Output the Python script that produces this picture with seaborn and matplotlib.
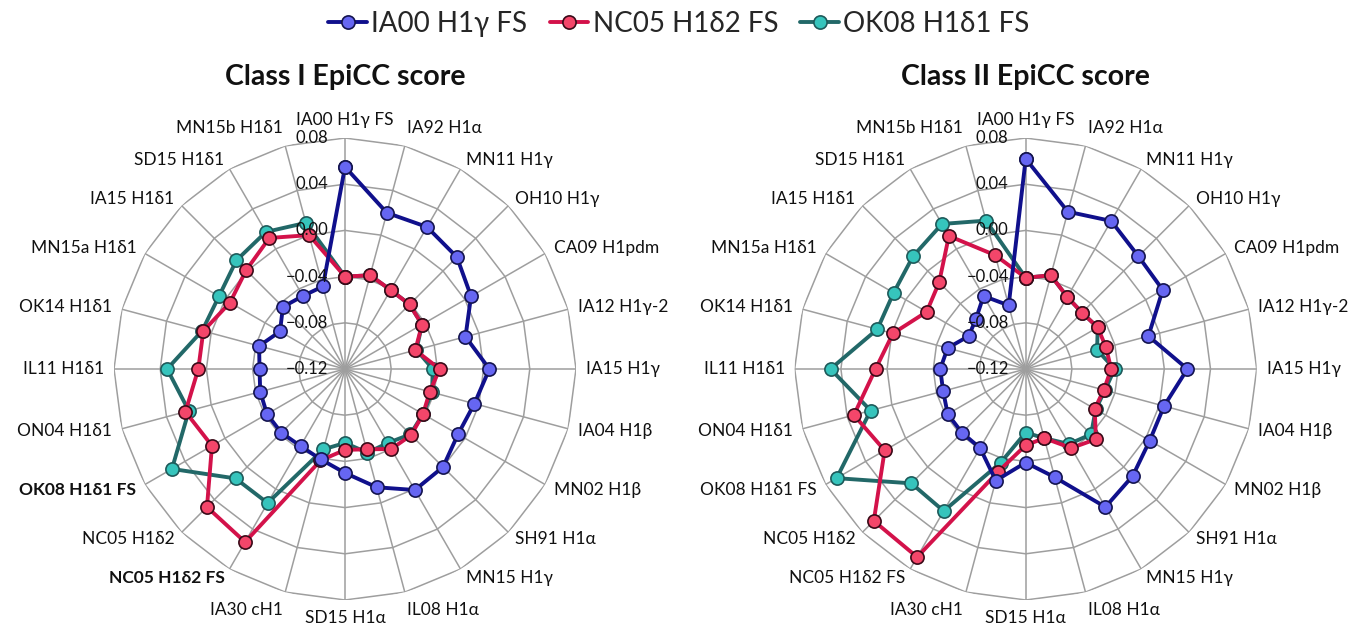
import numpy as np
import pandas as pd
import matplotlib
matplotlib.use("Agg")
import matplotlib.pyplot as plt
import matplotlib.transforms as mtransforms
import seaborn as sns

# ---------------- data ----------------
categories = ["IA00 H1γ FS", "IA92 H1α", "MN11 H1γ", "OH10 H1γ", "CA09 H1pdm",
              "IA12 H1γ-2", "IA15 H1γ", "IA04 H1β", "MN02 H1β", "SH91 H1α",
              "MN15 H1γ", "IL08 H1α", "SD15 H1α", "IA30 cH1", "NC05 H1δ2 FS",
              "NC05 H1δ2", "OK08 H1δ1 FS", "ON04 H1δ1", "IL11 H1δ1", "OK14 H1δ1",
              "MN15a H1δ1", "IA15 H1δ1", "SD15 H1δ1", "MN15b H1δ1"]

series_names = ["IA00 H1γ FS", "NC05 H1δ2 FS", "OK08 H1δ1 FS"]

class1_ia00 = [0.055, 0.020, 0.022, 0.017, 0.006, -0.012, 0.005, -0.004, -0.007, 0.000,
               0.001, -0.014, -0.030, -0.039, -0.043, -0.042, -0.042, -0.044, -0.046,
               -0.043, -0.055, -0.044, -0.047, -0.046]
class1_nc05 = [-0.040, -0.036, -0.041, -0.041, -0.043, -0.057, -0.038, -0.044, -0.042,
               -0.039, -0.040, -0.048, -0.050, -0.038, 0.053, 0.049, 0.013, 0.023,
               0.007, 0.007, -0.005, 0.001, 0.011, 0.000]
class1_ok08 = [-0.040, -0.036, -0.041, -0.041, -0.043, -0.056, -0.044, -0.042, -0.042,
               -0.040, -0.046, -0.045, -0.056, -0.048, 0.014, 0.014, 0.053, 0.020,
               0.034, 0.008, 0.006, 0.013, 0.017, 0.011]

class2_ia00 = [0.062, 0.021, 0.028, 0.018, 0.017, -0.010, 0.020, 0.004, 0.004, 0.011,
               0.018, -0.023, -0.039, -0.020, -0.041, -0.042, -0.042, -0.046, -0.046,
               -0.050, -0.063, -0.059, -0.047, -0.063]
class2_nc05 = [-0.041, -0.036, -0.048, -0.051, -0.048, -0.048, -0.046, -0.050, -0.051,
               -0.034, -0.041, -0.058, -0.054, -0.028, 0.068, 0.066, 0.021, 0.034,
               0.010, -0.001, -0.021, -0.014, 0.013, -0.018]
class2_ok08 = [-0.041, -0.036, -0.048, -0.051, -0.048, -0.056, -0.043, -0.049, -0.050,
               -0.040, -0.045, -0.058, -0.065, -0.036, 0.022, 0.020, 0.069, 0.019,
               0.049, 0.013, 0.012, 0.018, 0.025, 0.013]

radial_ticks = [0.08, 0.04, 0.00, -0.04, -0.08, -0.12]
radial_tick_labels = ["0.08", "0.04", "0.00", "\u22120.04", "\u22120.08", "\u22120.12"]
titles = ["Class I EpiCC score", "Class II EpiCC score"]
bold_labels_left = {"OK08 H1δ1 FS", "NC05 H1δ2 FS"}

# ---------------- style ----------------
sns.set_theme(style="white")
plt.rcParams["font.family"] = ["Lato", "DejaVu Sans"]

line_colors = ["#10108C", "#D3124A", "#226868"]
face_colors = ["#6666F2", "#F4466A", "#36C4BC"]
edge_colors = ["#14144F", "#3A0A18", "#1E5A5A"]
zorders = [6, 5, 4]
grid_color = "#9E9E9E"

W, H = 1358, 631
fig = plt.figure(figsize=(W / 100, H / 100), dpi=100)

n = len(categories)
theta = np.arange(n) * 2 * np.pi / n
theta_closed = np.append(theta, 2 * np.pi)
rmin, rmax = -0.12, 0.08
R_PX = 231

centers = [(345, 369), (1025.7, 369)]
datasets = [[class1_ia00, class1_nc05, class1_ok08],
            [class2_ia00, class2_nc05, class2_ok08]]

legend_handles = []
for k, ((cx, cy), data) in enumerate(zip(centers, datasets)):
    rect = [(cx - R_PX) / W, 1 - (cy + R_PX) / H, 2 * R_PX / W, 2 * R_PX / H]
    ax = fig.add_axes(rect, projection="polar")
    ax.set_theta_zero_location("N")
    ax.set_theta_direction(-1)
    ax.set_ylim(rmin, rmax)
    ax.spines["polar"].set_visible(False)
    ax.set_facecolor("white")
    ax.set_yticks([])
    ax.yaxis.grid(False)
    ax.set_xticks(theta)
    ax.set_xticklabels([])
    ax.xaxis.grid(True, color=grid_color, lw=1.1)

    # polygon rings
    for lvl in [-0.08, -0.04, 0.0, 0.04, 0.08]:
        ax.plot(theta_closed, [lvl] * (n + 1), color=grid_color, lw=1.1, zorder=1)

    # series
    for j, (name, vals) in enumerate(zip(series_names, data)):
        df = pd.DataFrame({"theta": theta_closed, "score": list(vals) + [vals[0]]})
        sns.lineplot(data=df, x="theta", y="score", ax=ax, sort=False, estimator=None,
                     color=line_colors[j], lw=2.8, marker="o", markersize=9.5,
                     markerfacecolor=face_colors[j], markeredgecolor=edge_colors[j],
                     markeredgewidth=1.2, zorder=zorders[j], legend=False)
        if k == 0:
            line = ax.lines[-1]
            line.set_label(name)
            legend_handles.append(line)
    ax.set_xlabel("")
    ax.set_ylabel("")
    ax.set_ylim(rmin, rmax)

    # radial tick labels
    tr = mtransforms.offset_copy(ax.transData, fig=fig, x=-17, y=0, units="dots")
    for v, lab in zip(radial_ticks, radial_tick_labels):
        ax.text(0, v, lab, transform=tr, ha="right", va="center", fontsize=12,
                color="#111111", zorder=10)

    # category labels
    pad = 10
    for th, cat in zip(theta, categories):
        s, c = np.sin(th), np.cos(th)
        ha = "left" if s > 0.05 else ("right" if s < -0.05 else "center")
        va = "bottom" if c > 0.9 else ("top" if c < -0.9 else "center")
        trc = mtransforms.offset_copy(ax.transData, fig=fig, x=pad * s, y=pad * c,
                                      units="dots")
        weight = "bold" if (k == 0 and cat in bold_labels_left) else "normal"
        ax.text(th, rmax, cat, transform=trc, ha=ha, va=va, fontsize=12.5,
                fontweight=weight, color="#111111", clip_on=False)

    fig.text(cx / W, 1 - 77 / H, titles[k], ha="center", va="center",
             fontsize=20.5, fontweight="bold", color="#111111")

fig.legend(handles=legend_handles, labels=series_names, loc="center",
           bbox_to_anchor=(0.5, 1 - 24 / H), ncol=3, frameon=False, fontsize=20,
           handlelength=1.4, handletextpad=0.15, columnspacing=0.8)

fig.savefig("out.png", dpi=100, facecolor="white")
